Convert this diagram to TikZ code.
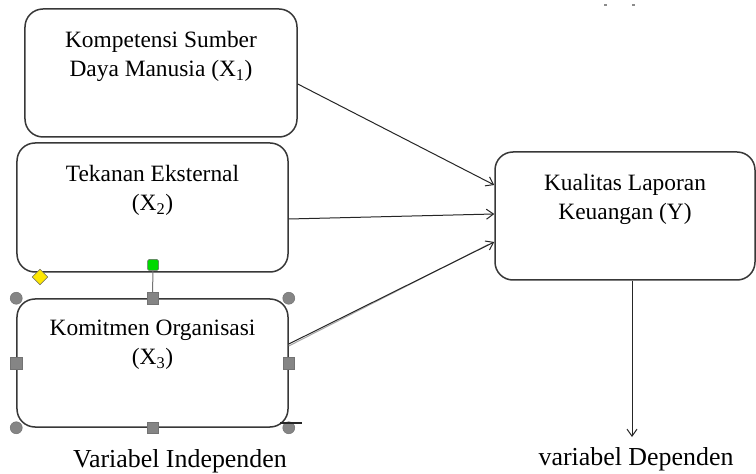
\documentclass[tikz,border=0pt]{standalone}
\usepackage{fontspec}
\setmainfont{Liberation Serif}
\usetikzlibrary{arrows.meta}
\begin{document}
\begin{tikzpicture}[x=1bp,y=-1bp,
  box/.style={draw=black!78, line width=1.5bp, rounded corners=18bp, fill=white, inner sep=0pt},
  btext/.style={font=\rmfamily\fontsize{23.5}{29}\selectfont, align=center, inner sep=0pt, anchor=north, text=black},
  lbl/.style={font=\rmfamily\fontsize{26}{30}\selectfont, inner sep=0pt, anchor=base, text=black},
  conn/.style={draw=black!85, line width=1bp, -{Straight Barb[length=7bp,width=10bp,line width=1bp]}},
  hsq/.style={draw=black!55, fill=black!48, line width=0.5bp, minimum size=11.5bp, inner sep=0pt},
  hci/.style={circle, draw=black!55, fill=black!48, line width=0.5bp, minimum size=12bp, inner sep=0pt}
]
\useasboundingbox (0,0) rectangle (756,474);
\fill[white] (0,0) rectangle (756,474);

% boxes
\node[box, minimum width=272bp, minimum height=128bp] (k1) at (161,73) {};
\node[box, minimum width=271bp, minimum height=129bp] (k2) at (152.5,207.5) {};
\node[box, minimum width=271bp, minimum height=128bp] (k3) at (152.5,363) {};
\node[box, minimum width=260bp, minimum height=128bp] (ky) at (625,216) {};

% texts
\node[btext] (t1) at ([yshift=-23bp]k1.north) {Kompetensi Sumber\\Daya Manusia (X\textsubscript{1})};
\node[btext] (t2) at ([yshift=-23bp]k2.north) {Tekanan Eksternal\\(X\textsubscript{2})};
\node[btext] (t3) at ([yshift=-22bp]k3.north) {Komitmen Organisasi\\(X\textsubscript{3})};
\node[btext] (ty) at ([yshift=-23bp]ky.north) {Kualitas Laporan\\Keuangan (Y)};

% connectors
\draw[conn] ([yshift=-11bp]k1.east) -- ([yshift=31bp]ky.west);
\draw[conn] ([yshift=-11.5bp]k2.east) -- ([yshift=2bp]ky.west);
\draw[black!35, line width=1bp] ([yshift=17bp]k3.east) -- ([yshift=-28.5bp,xshift=-6bp]ky.west);
\draw[conn] ([yshift=19bp]k3.east) -- ([yshift=-26bp]ky.west);

\coordinate (ds) at (632,437);
\draw[conn] (ky.south -| ds) -- (ds);

% labels
\node[lbl] (li) at (180,467) {Variabel Independen};
\node[lbl] (ld) at (636,465) {variabel Dependen};

% selection handles on X3
\node[hsq] (hT) at (k3.north) {};
\node[hsq] (hB) at (k3.south) {};
\node[hsq] (hL) at (k3.west) {};
\node[hsq] (hR) at (k3.east) {};
\node[hci] (hNW) at (k3.north west) {};
\node[hci] (hNE) at (k3.north east) {};
\node[hci] (hSW) at (k3.south west) {};
\node[hci] (hSE) at (k3.south east) {};
\draw[black!85, line width=1.2bp] (280,423) -- (302,423);

% rotation handle
\node[draw=black!60, fill=green!85!black, line width=0.5bp, minimum size=11bp, inner sep=0pt, rounded corners=1.5bp] (gh) at (153,265) {};
\draw[black!55, line width=1bp] (gh) -- (hT);

% yellow diamond
\node[draw=black!60, fill=yellow!90!orange, line width=0.5bp, minimum size=11bp, inner sep=0pt, rotate=45] (yd) at (40,277) {};

% small marks at top
\fill[black!45] (603.5,4) rectangle (606.5,6) coordinate (m1);
\fill[black!45] (631.5,4) rectangle (634.5,6) coordinate (m2);
\end{tikzpicture}
\end{document}
